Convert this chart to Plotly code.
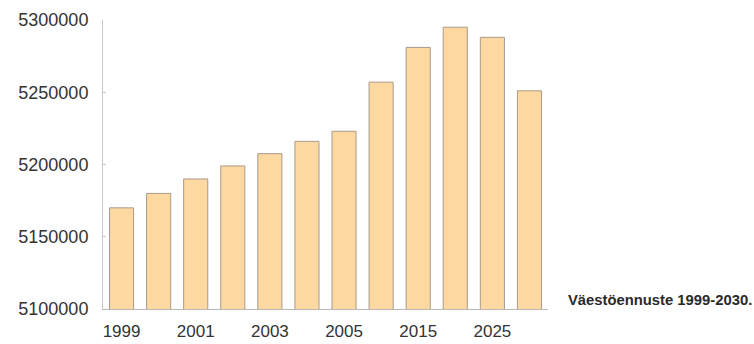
import plotly.graph_objects as go

years = ["1999", "2000", "2001", "2002", "2003", "2004", "2005", "2010", "2015", "2020", "2025", "2030"]
population = [5170000, 5180000, 5190000, 5199000, 5207500, 5216000, 5223000, 5257000, 5281000, 5295000, 5288000, 5251000]
tick_years = ["1999", "2001", "2003", "2005", "2015", "2025"]
y_ticks = [5100000, 5150000, 5200000, 5250000, 5300000]
title_text = "Väestöennuste 1999-2030."

W, H = 754, 344
ml, mr, mt, mb = 103, 206, 20, 35

fig = go.Figure(go.Bar(
    x=years, y=population,
    marker=dict(color="#fdd9a1", line=dict(color="#a89a8a", width=1)),
))

fig.update_layout(
    width=W, height=H,
    margin=dict(l=ml, r=mr, t=mt, b=mb),
    plot_bgcolor="white", paper_bgcolor="white",
    bargap=0.35,
    showlegend=False,
    font=dict(family="Liberation Sans, Arial, sans-serif", color="#333333"),
    xaxis=dict(
        type="category", range=[-0.5, 11.5], automargin=False,
        tickmode="array", tickvals=tick_years, ticktext=tick_years,
        showgrid=False, showline=True, linecolor="#b8b8b8", linewidth=1,
        ticks="", tickfont=dict(size=17, color="#333333"), ticklabelstandoff=7,
    ),
    yaxis=dict(
        range=[5100000, 5300000], automargin=False,
        tickmode="array", tickvals=y_ticks, ticktext=[str(v) for v in y_ticks],
        showgrid=False, showline=True, linecolor="#c8c8c8", linewidth=1,
        ticks="inside", ticklen=3, tickcolor="#c8c8c8",
        tickfont=dict(size=18, color="#333333"), ticklabelstandoff=10,
        zeroline=False,
    ),
    annotations=[dict(
        text="<b>" + title_text + "</b>",
        xref="paper", yref="paper",
        x=(566 - ml) / (W - ml - mr), y=(H - mb - 300) / (H - mt - mb),
        xanchor="left", yanchor="middle", showarrow=False,
        font=dict(family="Liberation Sans, Arial, sans-serif", size=14.8, color="#2a2a2a"),
    )],
)

fig.write_html("out.html")
